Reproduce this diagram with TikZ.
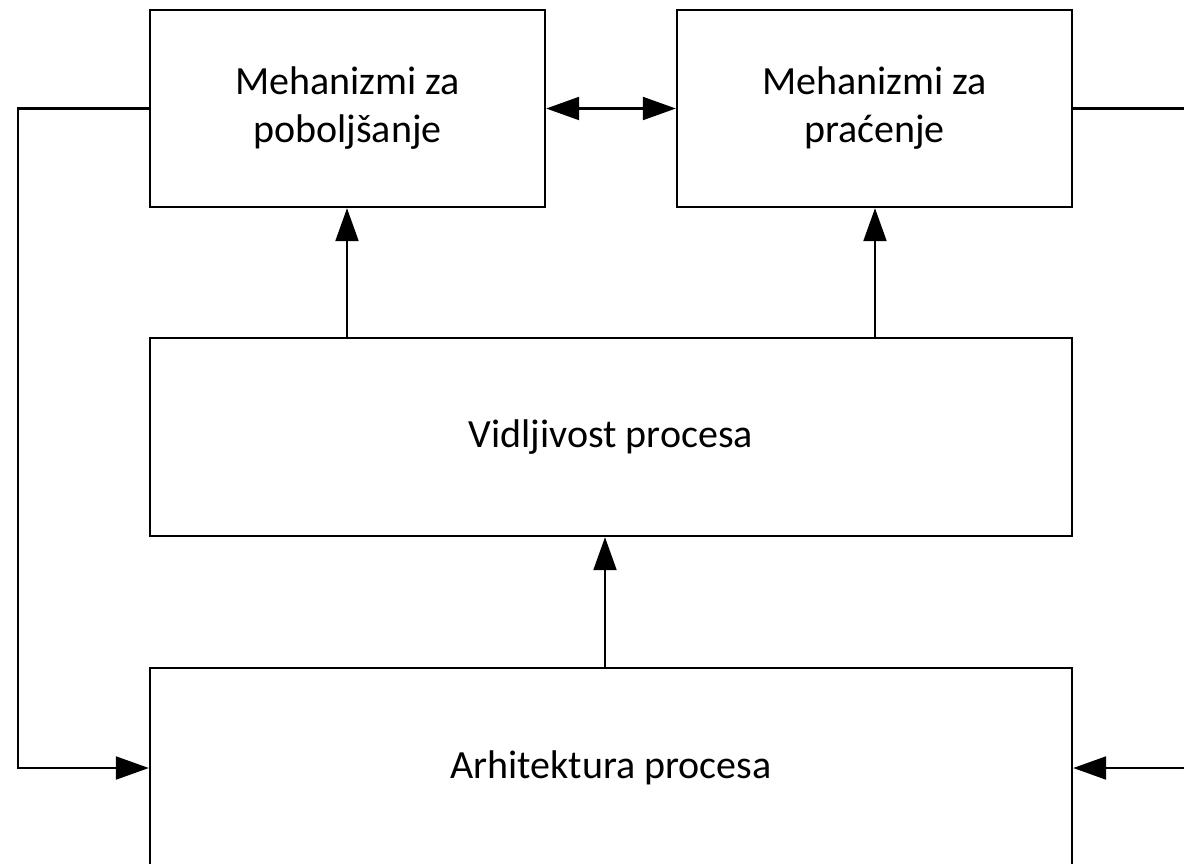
\documentclass[tikz,border=0pt]{standalone}
\usepackage{fontspec}
\setmainfont{Carlito}
\usetikzlibrary{arrows.meta}
\begin{document}
\begin{tikzpicture}[x=1pt,y=-1pt,
  tip/.tip={Triangle[length=33pt,width=23pt]},
  blk/.style={draw,line width=2.4pt,fill=white,inner sep=0pt,align=center,font=\fontsize{40}{48}\selectfont},
  wire/.style={line width=2.2pt},
  conn/.style={wire,-tip}]
\useasboundingbox (0,0) rectangle (1184,863);
\clip (0,0) rectangle (1184,863);
\node[blk,minimum width=395pt,minimum height=197pt] (pob) at (347.5,108.5) {Mehanizmi za\\poboljšanje};
\node[blk,minimum width=395pt,minimum height=197pt] (pra) at (874.5,108.5) {Mehanizmi za\\praćenje};
\node[blk,minimum width=922pt,minimum height=198pt] (vid) at (611,437) {Vidljivost procesa};
\node[blk,minimum width=922pt,minimum height=200pt] (arh) at (611,768) {Arhitektura procesa};
\coordinate (lft) at (18,0);
\coordinate (rgt) at (1200,0);
% vertical links into the upper boxes
\draw[conn] (vid.north -| 347,0) -- (pob.south -| 347,0);
\draw[conn] (vid.north -| 875,0) -- (pra.south -| 875,0);
\draw[conn] (arh.north -| 605,0) -- (vid.south -| 605,0);
% two-way link between the mechanisms
\draw[wire,tip-tip] (pob.east) -- (pra.east -| pra.west);
% feedback loops to the architecture
\draw[conn] (pob.west) -- (pob.west -| lft) -- (arh.west -| lft) -- (arh.west);
\draw[wire] (pra.east) -- (pra.east -| rgt);
\draw[conn] (arh.east -| rgt) -- (arh.east);
\end{tikzpicture}
\end{document}
